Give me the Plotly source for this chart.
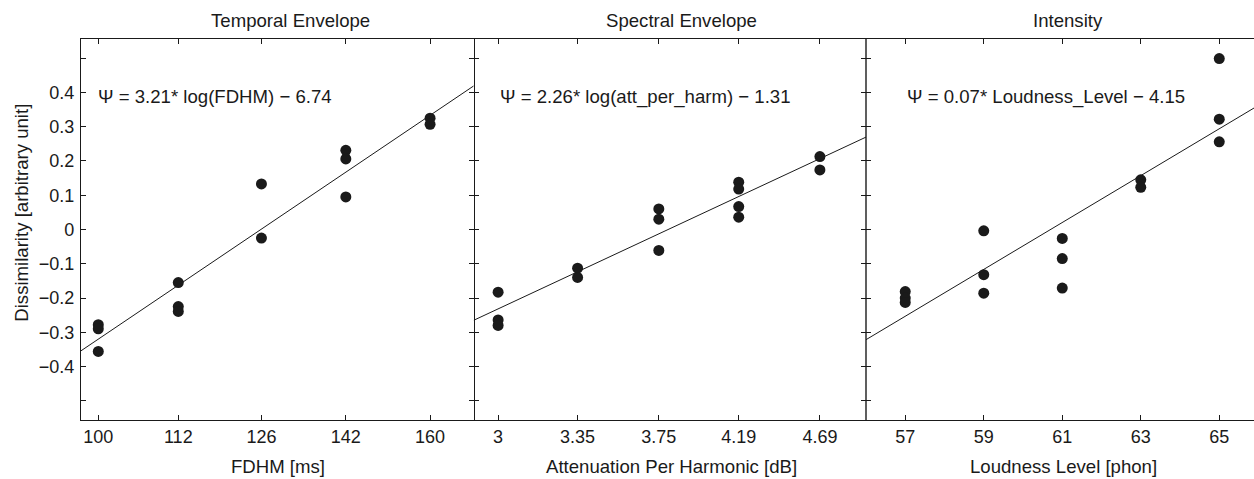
import numpy as np
import plotly.graph_objects as go

# ---------------- data ----------------
titles = ["Temporal Envelope", "Spectral Envelope", "Intensity"]
x_titles = ["FDHM [ms]", "Attenuation Per Harmonic [dB]", "Loudness Level [phon]"]
y_title = "Dissimilarity [arbitrary unit]"

# Panel 1: Temporal envelope
fdhm_ticks = [100, 112, 126, 142, 160]
fdhm_x = [100, 100, 100, 112, 112, 112, 126, 126, 142, 142, 142, 160, 160]
fdhm_y = [-0.278, -0.290, -0.356, -0.155, -0.225, -0.239, 0.133, -0.025,
          0.231, 0.206, 0.095, 0.325, 0.307]

# Panel 2: Spectral envelope
att_ticks = [3, 3.35, 3.75, 4.19, 4.69]
att_x = [3, 3, 3, 3.35, 3.35, 3.75, 3.75, 3.75, 4.19, 4.19, 4.19, 4.19, 4.69, 4.69]
att_y = [-0.183, -0.264, -0.280, -0.113, -0.140, 0.060, 0.030, -0.061,
         0.138, 0.118, 0.067, 0.036, 0.213, 0.174]

# Panel 3: Intensity
loud_ticks = [57, 59, 61, 63, 65]
loud_x = [57, 57, 57, 59, 59, 59, 61, 61, 61, 63, 63, 65, 65, 65]
loud_y = [-0.181, -0.200, -0.213, -0.004, -0.132, -0.186, -0.026, -0.085,
          -0.171, 0.145, 0.123, 0.499, 0.322, 0.256]

# regression lines (slope, intercept); panels 1-2 in log10(x)
fit_coef = [(3.20, -6.72), (2.26, -1.31), (0.0684, -4.152)]
equations = ["Ψ = 3.21* log(FDHM) − 6.74",
             "Ψ = 2.26* log(att_per_harm) − 1.31",
             "Ψ = 0.07* Loudness_Level − 4.15"]

y_tickvals = [-0.5, -0.4, -0.3, -0.2, -0.1, 0, 0.1, 0.2, 0.3, 0.4, 0.5]
y_ticktext = ["", "−0.4", "−0.3", "−0.2", "−0.1", "0", "0.1", "0.2", "0.3", "0.4", ""]

# ---------------- layout constants ----------------
W, H = 1254, 479
ML, MR, MT, MB = 81, 0, 39, 59
PW = W - ML - MR
PH = H - MT - MB
x_ranges = [(97.58, 170.2), (2.90, 5.0), (56.0, 65.885)]
log_axis = [True, True, False]
y_range = [-0.556, 0.556]
edges_px = [81, 473.7, 866, 1254]
INK = "#1a1a1a"
FONT = "Liberation Sans, Arial, Helvetica, sans-serif"
FS_TICK = 18
FS_TEXT = 18.6


def px2x(px):
    return (px - ML) / PW


def px2y(py):
    return (H - MB - py) / PH


fig = go.Figure()

xs_all = [fdhm_x, att_x, loud_x]
ys_all = [fdhm_y, att_y, loud_y]
ticks_all = [fdhm_ticks, att_ticks, loud_ticks]

for i in range(3):
    xa = "x" if i == 0 else f"x{i+1}"
    ya = "y" if i == 0 else f"y{i+1}"
    lo, hi = x_ranges[i]
    xl = np.array([lo, hi])
    m, b = fit_coef[i]
    yl = m * (np.log10(xl) if log_axis[i] else xl) + b
    fig.add_trace(go.Scatter(x=xl, y=yl, mode="lines", xaxis=xa, yaxis=ya,
                             line=dict(color=INK, width=1), showlegend=False,
                             hoverinfo="skip"))
    fig.add_trace(go.Scatter(x=xs_all[i], y=ys_all[i], mode="markers",
                             xaxis=xa, yaxis=ya,
                             marker=dict(color=INK, size=11, line=dict(width=0)),
                             showlegend=False))

    d0 = px2x(edges_px[i])
    d1 = min(1.0, px2x(edges_px[i + 1]))
    rng = [np.log10(lo), np.log10(hi)] if log_axis[i] else [lo, hi]
    xkey = "xaxis" if i == 0 else f"xaxis{i+1}"
    ykey = "yaxis" if i == 0 else f"yaxis{i+1}"
    fig.layout[xkey] = dict(
        domain=[d0, d1], range=rng, type="log" if log_axis[i] else "linear",
        anchor=ya, tickmode="array", tickvals=ticks_all[i],
        ticktext=[str(t) for t in ticks_all[i]],
        ticks="inside", ticklen=5, tickcolor=INK, tickwidth=1,
        showline=True, linecolor=INK, linewidth=1.3, mirror="ticks",
        showgrid=False, zeroline=False,
        tickfont=dict(family=FONT, size=FS_TICK, color=INK),
        ticklabelstandoff=0,
    )
    fig.layout[ykey] = dict(
        domain=[0, 1], range=y_range, anchor=xa,
        tickmode="array", tickvals=y_tickvals, ticktext=y_ticktext,
        ticks="inside", ticklen=5, tickcolor=INK, tickwidth=1,
        showline=(i == 0), linecolor=INK, linewidth=1.4,
        mirror="ticks" if i < 2 else False,
        showgrid=False, zeroline=False, showticklabels=(i == 0),
        tickfont=dict(family=FONT, size=FS_TICK, color=INK),
        ticklabelstandoff=2,
    )

# right border of panel 2 (panel 1's right border comes from its mirrored axis line)
fig.add_shape(type="line", xref="paper", yref="paper",
              x0=px2x(edges_px[2]), x1=px2x(edges_px[2]), y0=0, y1=1,
              line=dict(color=INK, width=1.4), layer="above")

annotations = []
title_cx = [290, 681.3, 1067.5]
xtitle_cx = [277.5, 671, 1063]
eq_x = [95.7, 498.3, 905]
for i in range(3):
    annotations.append(dict(text=titles[i], x=px2x(title_cx[i]), y=px2y(20.7),
                            xref="paper", yref="paper", showarrow=False,
                            xanchor="center", yanchor="middle",
                            font=dict(family=FONT, size=FS_TEXT, color=INK)))
    annotations.append(dict(text=x_titles[i], x=px2x(xtitle_cx[i]), y=px2y(466.7),
                            xref="paper", yref="paper", showarrow=False,
                            xanchor="center", yanchor="middle",
                            font=dict(family=FONT, size=FS_TEXT, color=INK)))
    annotations.append(dict(text=equations[i], x=px2x(eq_x[i]), y=px2y(96.5),
                            xref="paper", yref="paper", showarrow=False,
                            xanchor="left", yanchor="middle",
                            font=dict(family=FONT, size=FS_TEXT, color=INK)))
annotations.append(dict(text=y_title, x=px2x(20.7), y=px2y(213), textangle=-90,
                        xref="paper", yref="paper", showarrow=False,
                        xanchor="center", yanchor="middle",
                        font=dict(family=FONT, size=FS_TEXT, color=INK)))

fig.update_layout(
    width=W, height=H, autosize=False,
    margin=dict(l=ML, r=MR, t=MT, b=MB, pad=0),
    paper_bgcolor="white", plot_bgcolor="white",
    annotations=annotations, showlegend=False,
)

fig.write_html("out.html", config={"displayModeBar": False},
               post_script="document.body.style.margin='0';")
